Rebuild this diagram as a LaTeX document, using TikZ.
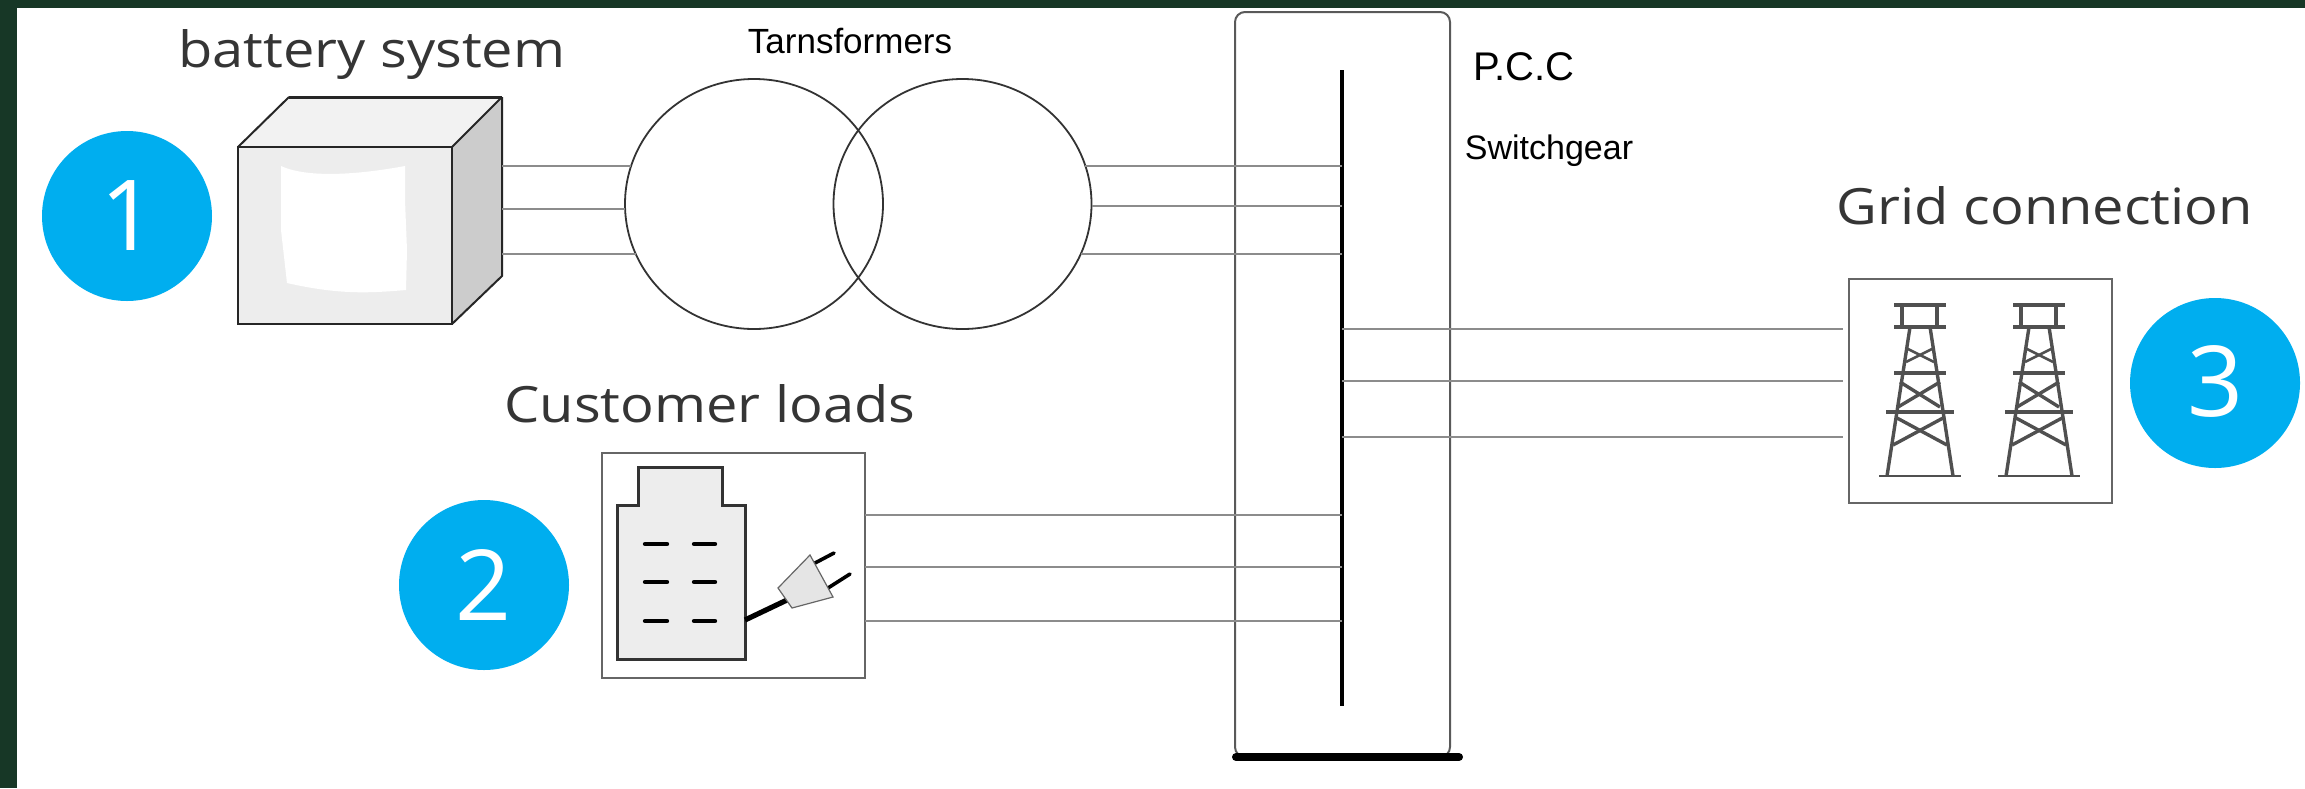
\documentclass[tikz,border=0pt]{standalone}
\usepackage{fontspec}
\setmainfont{Liberation Sans}
\newfontfamily\labelfont{Open Sans}
\newfontfamily\widefont[FakeStretch=1.12]{Open Sans}
\usetikzlibrary{shapes.geometric}
\definecolor{bgdark}{HTML}{173726}
\definecolor{badge}{HTML}{00AEEF}
\definecolor{wire}{HTML}{8C8C8C}
\definecolor{towergray}{HTML}{505050}
\definecolor{labelgray}{HTML}{353535}
\tikzset{
  x=0.5pt,y=-0.5pt,
  badgenode/.style={circle,fill=badge,text=white,minimum size=85pt,inner sep=0pt,font=\labelfont\fontsize{49}{49}\selectfont},
  bigtext/.style={text=labelgray,inner sep=0pt,anchor=base,font=\widefont\fontsize{25}{25}\selectfont},
  smalltext/.style={text=black,inner sep=0pt,font=\fontsize{17.5}{17.5}\selectfont},
  wireline/.style={draw=wire,line width=0.8pt},
  winding/.style={ellipse,draw=black!80,line width=0.9pt,minimum width=129pt,minimum height=125pt,inner sep=0pt,outer sep=0pt},
  framebox/.style={rectangle,draw=black!60,line width=0.9pt,fill=white,inner sep=0pt,outer sep=0pt},
  cubeedge/.style={draw=black!85,line width=1pt,line join=miter},
  towerline/.style={draw=towergray,line width=1.7pt},
}
\begin{document}
\begin{tikzpicture}
\useasboundingbox (0,0) rectangle (2305,788);
\fill[bgdark] (0,0) rectangle (2305,788);
\fill[white] (17,8) rectangle (2305,788);

% switchgear panel
\node[rectangle,rounded corners=5pt,draw=black!65,line width=1pt,minimum width=107.5pt,minimum height=372.5pt,inner sep=0pt,outer sep=0pt] (panel) at (1342.5,384.5) {};
\coordinate (padL) at (1236,757);
\coordinate (padR) at (1459,757);
\draw[black,line width=4pt,line cap=round] (padL) -- (padR);
\coordinate (busT) at (1342,70);
\coordinate (busB) at (1342,706);
\draw[black,line width=2pt] (busT) -- (busB);

% battery
\coordinate (fTL) at (238,147);
\coordinate (fTR) at (452,147);
\coordinate (fBR) at (452,324);
\coordinate (fBL) at (238,324);
\coordinate (bTL) at (289,97);
\coordinate (bTR) at (502,97);
\coordinate (bBR) at (502,276);
\fill[black!5] (fTL) -- (bTL) -- (bTR) -- (fTR) -- cycle;
\fill[black!20] (fTR) -- (bTR) -- (bBR) -- (fBR) -- cycle;
\fill[black!7] (fTL) rectangle (fBR);
\fill[white] (281,166) .. controls (300,175) and (340,178) .. (405,166) -- (405,200) -- (407,250) -- (406,290) .. controls (370,293) and (340,295) .. (287,283) -- (281,230) -- cycle;
\draw[cubeedge] (fTL) rectangle (fBR);
\draw[cubeedge] (fTL) -- (bTL);
\draw[cubeedge,line width=1.5pt] (bTL) -- (bTR);
\draw[cubeedge] (bTR) -- (bBR) -- (fBR);
\draw[cubeedge] (fTR) -- (bTR);

% transformers
\node[winding] (t1) at (754,204) {};
\node[winding] (t2) at (962.5,204) {};

% battery to transformer
\coordinate (bw1) at (502,166);
\coordinate (bw2) at (502,209);
\coordinate (bw3) at (502,254);
\coordinate (t1a) at (631,166);
\coordinate (t1b) at (625,209);
\coordinate (t1c) at (636,254);
\draw[wireline] (bw1) -- (t1a);
\draw[wireline] (bw2) -- (t1b);
\draw[wireline] (bw3) -- (t1c);

% transformer to bus
\coordinate (t2a) at (1085,166);
\coordinate (t2b) at (1092,206);
\coordinate (t2c) at (1081,254);
\draw[wireline] (t2a) -- (t2a -| busT);
\draw[wireline] (t2b) -- (t2b -| busT);
\draw[wireline] (t2c) -- (t2c -| busT);

% customer loads
\node[framebox,minimum width=131.5pt,minimum height=112.5pt] (loadbox) at (733.5,565.5) {};
\draw[draw=black!80,fill=black!7,line width=1.5pt] (617,659) -- (617,505) -- (638,505) -- (638,467) -- (722,467) -- (722,505) -- (745,505) -- (745,659) -- cycle;
\foreach \yy in {544,582,621}{
  \draw[black,line width=2.2pt,line cap=round] (645,\yy) -- (667,\yy);
  \draw[black,line width=2.2pt,line cap=round] (694,\yy) -- (715,\yy);
}
\draw[black,line width=2.6pt] (745,620) -- (787,600);
\draw[black,line width=1.8pt,line cap=round] (815,563) -- (834,553);
\draw[black,line width=1.8pt,line cap=round] (828,588) -- (850,574);
\draw[draw=black!60,fill=black!10,line width=0.6pt] (778,588) -- (810,555) -- (833,597) -- (792,608) -- cycle;
\coordinate (lw1) at (loadbox.east |- 0,515);
\coordinate (lw2) at (loadbox.east |- 0,567);
\coordinate (lw3) at (loadbox.east |- 0,621);
\draw[wireline] (lw1) -- (lw1 -| busT);
\draw[wireline] (lw2) -- (lw2 -| busT);
\draw[wireline] (lw3) -- (lw3 -| busT);

% grid
\node[framebox,minimum width=131.5pt,minimum height=112pt] (gridbox) at (1980.5,391) {};
\foreach \cx in {1920,2039}{
  \begin{scope}[shift={(\cx,0)}]
    \draw[towerline] (-26,305) -- (26,305);
    \draw[towerline] (-26,327) -- (26,327);
    \draw[towerline] (-18,305) -- (-18,327);
    \draw[towerline] (17,305) -- (17,327);
    \draw[towerline] (-26,373) -- (26,373);
    \draw[towerline] (-34,412) -- (34,412);
    \draw[draw=towergray,line width=1.1pt] (-41,476) -- (41,476);
    \draw[towerline] (-10,327) -- (-33,476);
    \draw[towerline] (10,327) -- (33,476);
    \draw[draw=towergray,line width=1.3pt] (-14,348) -- (14,362);
    \draw[draw=towergray,line width=1.3pt] (14,348) -- (-14,362);
    \draw[towerline] (-20,382) -- (20,407);
    \draw[towerline] (20,382) -- (-22,407);
    \draw[towerline] (-23,418) -- (27,445);
    \draw[towerline] (23,418) -- (-27,445);
  \end{scope}
}
\coordinate (gw1) at (1843,329);
\coordinate (gw2) at (1843,381);
\coordinate (gw3) at (1843,437);
\draw[wireline] (gw1 -| busT) -- (gw1);
\draw[wireline] (gw2 -| busT) -- (gw2);
\draw[wireline] (gw3 -| busT) -- (gw3);

% badges
\node[badgenode] (b1) at (127,216) {\hspace{2pt}1};
\node[badgenode] (b2) at (484,585) {2};
\node[badgenode] (b3) at (2215,383) {\raisebox{2pt}{3}};

% labels
\node[bigtext] (lblbat) at (372,67) {battery system};
\node[bigtext] (lblcust) at (710,422) {Customer loads};
\node[bigtext] (lblgrid) at (2045,224) {Grid connection};
\node[smalltext] (lbltr) at (850,41) {Tarnsformers};
\node[smalltext,font=\fontsize{20}{20}\selectfont] (lblpcc) at (1524,67) {P.C.C};
\node[smalltext,font=\fontsize{17}{17}\selectfont] (lblsw) at (1549,151) {Switchgear};
\end{tikzpicture}
\end{document}
